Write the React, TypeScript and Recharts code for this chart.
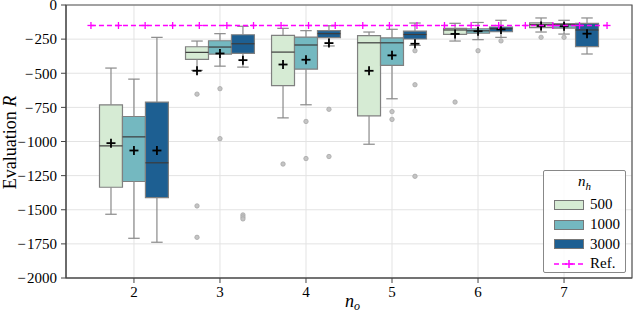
import React from 'react';
import {
  ComposedChart, XAxis, YAxis, CartesianGrid, Scatter, ReferenceArea, ReferenceLine,
} from 'recharts';

// n_o values on the x axis
const groups = [2, 3, 4, 5, 6, 7];
const hues = ['500', '1000', '3000'];
const hueColors = ['#d6ebd4', '#74b8c0', '#1d5f92'];
const hueOffsets = [-0.267, 0, 0.267];
const boxWidth = 0.267;

// box stats per group: [low whisker, q1, median, q3, high whisker, mean]
const stats500 = [
  [-1533, -1335, -1032, -731, -462, -1012],
  [-479, -399, -347, -306, -264, -482],
  [-827, -590, -345, -222, -171, -436],
  [-1020, -812, -277, -225, -198, -482],
  [-264, -215, -183, -171, -134, -212],
  [-198, -166, -144, -131, -95, -154],
];
const stats1000 = [
  [-1709, -1293, -966, -817, -543, -1066],
  [-448, -360, -308, -262, -210, -355],
  [-731, -470, -293, -235, -188, -401],
  [-687, -443, -277, -241, -178, -369],
  [-254, -207, -189, -174, -128, -192],
  [-213, -169, -144, -137, -112, -156],
];
const stats3000 = [
  [-1738, -1411, -1156, -711, -237, -1066],
  [-455, -355, -284, -218, -156, -404],
  [-300, -239, -210, -188, -152, -279],
  [-296, -249, -216, -191, -132, -284],
  [-237, -196, -174, -161, -112, -179],
  [-359, -305, -183, -134, -95, -210],
];

const outliers500 = [[], [-653, -1472, -1702], [-1165], [], [-711], [-237]];
const outliers1000 = [[], [-613, -979], [-853, -1125], [-781, -838], [-335], [-237]];
const outliers3000 = [[], [-1538, -1553, -1567], [-764, -1110], [-335, -584, -1255], [-263], []];

const refValue = -150;
const refX = [1.5, 1.82, 2.13, 2.45, 2.76, 3.08, 3.39, 3.71, 4.03, 4.34, 4.66, 4.97, 5.29, 5.61, 5.92, 6.24, 6.55, 6.87, 7.18, 7.5];

const yTicks = [0, -250, -500, -750, -1000, -1250, -1500, -1750, -2000];

const allStats = [stats500, stats1000, stats3000];
const allOutliers = [outliers500, outliers1000, outliers3000];

const boxes = allStats.flatMap((s, h) =>
  s.map(([lo, q1, med, q3, hi, mean], g) => ({
    key: `${h}-${g}`, x: groups[g] + hueOffsets[h], color: hueColors[h], lo, q1, med, q3, hi, mean,
  })),
);
const meanPoints = boxes.map((b) => ({ x: b.x, y: b.mean }));
const outlierPoints = allOutliers.flatMap((o, h) =>
  o.flatMap((vals, g) => vals.map((v) => ({ x: groups[g] + hueOffsets[h], y: v }))),
);
const refPoints = refX.map((x) => ({ x, y: refValue }));

const FONT = 'Liberation Serif, serif';
const fmt = (v: number) => (v < 0 ? `\u2212\u200A${Math.abs(v)}` : `${v}`);

const Plus = ({ cx, cy, size, color, w }: any) => (
  <g>
    <line x1={cx - size} x2={cx + size} y1={cy} y2={cy} stroke={color} strokeWidth={w} />
    <line x1={cx} x2={cx} y1={cy - size} y2={cy + size} stroke={color} strokeWidth={w} />
  </g>
);

const YLabel = (props: any) => {
  const vb = props.viewBox || { x: 0, y: 5, width: 66, height: 273 };
  const cx = vb.x + 9.5;
  const cy = vb.y + vb.height / 2 + 1;
  return (
    <text x={cx} y={cy} transform={`rotate(-90 ${cx} ${cy})`} textAnchor="middle"
      dominantBaseline="central" style={{ fontFamily: FONT }} fontSize={18} fill="#000">
      Evaluation <tspan fontStyle="italic">R</tspan>
    </text>
  );
};

const XLabel = (props: any) => {
  const vb = props.viewBox || { x: 66, y: 278, width: 566, height: 34 };
  const cx = vb.x + vb.width / 2;
  return (
    <text x={cx - 4} y={vb.y + 29} style={{ fontFamily: FONT }} fontSize={18} fill="#000">
      <tspan fontStyle="italic">n</tspan>
      <tspan fontStyle="italic" fontSize={12} dy={3}>o</tspan>
    </text>
  );
};

const Legend = () => (
  <div style={{
    position: 'absolute', left: 543, top: 170, width: 81, height: 101, border: '1px solid #888',
    borderRadius: 2, background: 'rgba(255,255,255,0.85)', fontFamily: FONT, fontSize: 15, color: '#000',
  }}>
    <div style={{ textAlign: 'center', fontStyle: 'italic', fontSize: 15, marginTop: 2, height: 22 }}>
      n<sub style={{ fontSize: 11 }}>h</sub>
    </div>
    {hues.map((h, i) => (
      <div key={h} style={{ display: 'flex', alignItems: 'center', height: 19.7, marginLeft: 10 }}>
        <div style={{ width: 28, height: 8, background: hueColors[i], border: '1px solid #777', marginRight: 6 }} />
        <span>{h}</span>
      </div>
    ))}
    <div style={{ display: 'flex', alignItems: 'center', height: 19.7, marginLeft: 10 }}>
      <svg width={30} height={10} style={{ marginRight: 6 }}>
        <line x1={0} x2={30} y1={5} y2={5} stroke="#ff00ff" strokeWidth={1.5} strokeDasharray="5 3" />
        <line x1={11} x2={19} y1={5} y2={5} stroke="#ff00ff" strokeWidth={1.5} />
        <line x1={15} x2={15} y1={1} y2={9} stroke="#ff00ff" strokeWidth={1.5} />
      </svg>
      <span>Ref.</span>
    </div>
  </div>
);

const tickStyle = { fontFamily: FONT, fontSize: 15, fill: '#000' };

export default function App() {
  return (
    <div style={{ position: 'absolute', left: 0, top: 0, width: 634, height: 312, background: '#fff', fontFamily: FONT }}>
      <ComposedChart width={634} height={312} margin={{ top: 5, right: 2, bottom: 0, left: 0 }} style={{ fontFamily: FONT }}>
        <CartesianGrid stroke="#e3e3e3" strokeWidth={1} />
        <XAxis type="number" dataKey="x" domain={[1.21, 7.79]} ticks={groups} height={34} interval={0}
          allowDataOverflow tick={tickStyle} tickSize={5} tickMargin={3}
          stroke="#444" label={<XLabel />} />
        <YAxis type="number" dataKey="y" domain={[-2000, 0]} ticks={yTicks} width={66} interval={0}
          allowDataOverflow tickFormatter={fmt} tick={tickStyle}
          tickSize={5} tickMargin={4} stroke="#444" label={<YLabel />} />
        <ReferenceArea x1={1.21} x2={7.79} y1={-2000} y2={0} fill="none" stroke="#555" strokeWidth={1.2} />
        {boxes.map((b) => (
          <ReferenceLine key={`wh-${b.key}`} segment={[{ x: b.x, y: b.q3 }, { x: b.x, y: b.hi }]} stroke="#8a8a8a" strokeWidth={1.2} />
        ))}
        {boxes.map((b) => (
          <ReferenceLine key={`wl-${b.key}`} segment={[{ x: b.x, y: b.q1 }, { x: b.x, y: b.lo }]} stroke="#8a8a8a" strokeWidth={1.2} />
        ))}
        {boxes.map((b) => (
          <ReferenceLine key={`ch-${b.key}`} segment={[{ x: b.x - boxWidth / 4, y: b.hi }, { x: b.x + boxWidth / 4, y: b.hi }]} stroke="#8a8a8a" strokeWidth={1.2} />
        ))}
        {boxes.map((b) => (
          <ReferenceLine key={`cl-${b.key}`} segment={[{ x: b.x - boxWidth / 4, y: b.lo }, { x: b.x + boxWidth / 4, y: b.lo }]} stroke="#8a8a8a" strokeWidth={1.2} />
        ))}
        {boxes.map((b) => (
          <ReferenceArea key={`bx-${b.key}`} x1={b.x - boxWidth / 2} x2={b.x + boxWidth / 2} y1={b.q1} y2={b.q3}
            fill={b.color} fillOpacity={1} stroke="#808080" strokeWidth={1.2} />
        ))}
        {boxes.map((b) => (
          <ReferenceLine key={`md-${b.key}`} segment={[{ x: b.x - boxWidth / 2, y: b.med }, { x: b.x + boxWidth / 2, y: b.med }]} stroke="#3c3c3c" strokeWidth={1.2} />
        ))}
        <Scatter data={outlierPoints} isAnimationActive={false}
          shape={(p: any) => <circle cx={p.cx} cy={p.cy} r={2.2} fill="#c4c4c4" stroke="#a8a8a8" strokeWidth={0.8} />} />
        <Scatter data={meanPoints} isAnimationActive={false}
          shape={(p: any) => <Plus cx={p.cx} cy={p.cy} size={4.5} color="#000" w={1.8} />} />
        <Scatter data={refPoints} isAnimationActive={false} lineType="joint"
          line={{ stroke: '#ff00ff', strokeWidth: 1.5, strokeDasharray: '5 3' }}
          shape={(p: any) => <Plus cx={p.cx} cy={p.cy} size={3.5} color="#ff00ff" w={1.3} />} />
      </ComposedChart>
      <Legend />
    </div>
  );
}
